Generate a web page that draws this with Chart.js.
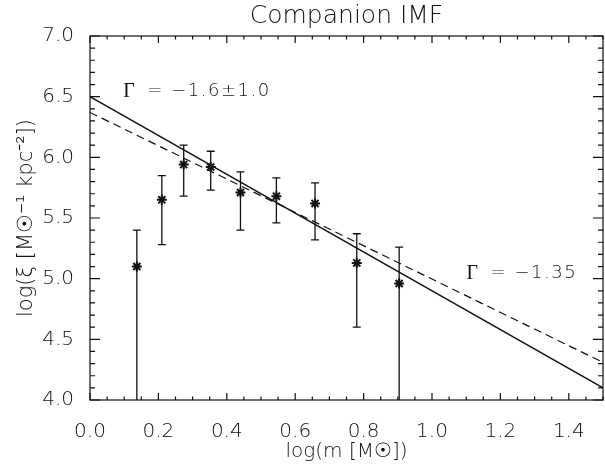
<!DOCTYPE html>
<html>
<head>
<meta charset="utf-8">
<script src="https://cdn.jsdelivr.net/npm/chart.js@4.4.1/dist/chart.umd.min.js"></script>
<style>
  body { margin: 0; background: #fff; overflow: hidden; }
</style>
</head>
<body>
<!-- canvas is a little wider than the window: the point overflow padding then lands off-screen -->
<canvas id="imfChart" width="610" height="466"></canvas>
<script>
// data
const logMass = [0.137, 0.210, 0.274, 0.353, 0.440, 0.545, 0.658, 0.780, 0.904];
const logXi   = [5.10, 5.65, 5.94, 5.92, 5.71, 5.68, 5.62, 5.13, 4.96];
const errHigh = [5.40, 5.85, 6.10, 6.05, 5.88, 5.83, 5.79, 5.37, 5.26];
const errLow  = [3.80, 5.28, 5.68, 5.73, 5.40, 5.46, 5.32, 4.60, 3.80];

const fitX      = [0.0, 1.5];
const fitSolid  = [6.50, 4.10];   // Gamma = -1.6
const fitDashed = [6.37, 4.31];   // Gamma = -1.35

const xTicks = [0.0, 0.2, 0.4, 0.6, 0.8, 1.0, 1.2, 1.4];
const yTicks = [4.0, 4.5, 5.0, 5.5, 6.0, 6.5, 7.0];

const fontFamily = "'DejaVu Sans', sans-serif";
const ink = '#111';
const chartTitle = 'Companion IMF';

// text labels in data coords
const fitLabels = [
    { x: 0.097, y: 6.54, value: '\u22121.6\u00b11.0' },
    { x: 1.101, y: 5.04, value: '\u22121.35' }
];

// IDL style frame: box, inward ticks on all sides, error bars, labels
const idlFrame = {
    id: 'idlFrame',
    beforeDatasetsDraw(chart) {
        const ctx = chart.ctx;
        const xs = chart.scales.x, ys = chart.scales.y;
        const a = chart.chartArea;
        ctx.save();
        ctx.beginPath();
        ctx.rect(a.left, a.top, a.right - a.left, a.bottom - a.top);
        ctx.clip();
        ctx.strokeStyle = ink;
        ctx.lineWidth = 1.3;
        for (let i = 0; i < logMass.length; i++) {
            const px = xs.getPixelForValue(logMass[i]);
            const hi = ys.getPixelForValue(errHigh[i]);
            const lo = ys.getPixelForValue(errLow[i]);
            ctx.beginPath();
            ctx.moveTo(px, hi); ctx.lineTo(px, lo);
            ctx.moveTo(px - 4, hi); ctx.lineTo(px + 4, hi);
            ctx.moveTo(px - 4, lo); ctx.lineTo(px + 4, lo);
            ctx.stroke();
        }
        ctx.restore();
    },
    afterDatasetsDraw(chart) {
        const ctx = chart.ctx;
        const xs = chart.scales.x, ys = chart.scales.y;
        const a = chart.chartArea;
        ctx.save();
        ctx.strokeStyle = ink;
        ctx.lineWidth = 1.2;
        ctx.strokeRect(a.left, a.top, a.right - a.left, a.bottom - a.top);

        ctx.beginPath();
        // x ticks (major every 0.2, minor every 0.05)
        for (let k = 0; k <= 30; k++) {
            const v = k * 0.05;
            const px = xs.getPixelForValue(v);
            const len = (k % 4 === 0) ? 7 : 3.5;
            ctx.moveTo(px, a.bottom); ctx.lineTo(px, a.bottom - len);
            ctx.moveTo(px, a.top); ctx.lineTo(px, a.top + len);
        }
        // y ticks (major every 0.5, minor every 0.1)
        for (let k = 0; k <= 30; k++) {
            const v = 4 + k * 0.1;
            const py = ys.getPixelForValue(v);
            const len = (k % 5 === 0) ? 10 : 5;
            ctx.moveTo(a.left, py); ctx.lineTo(a.left + len, py);
            ctx.moveTo(a.right, py); ctx.lineTo(a.right - len, py);
        }
        ctx.stroke();

        ctx.fillStyle = ink;
        // title, centred over the plot box
        ctx.textAlign = 'center';
        ctx.textBaseline = 'middle';
        ctx.font = "200 25px " + fontFamily;
        ctx.fillText(chartTitle, (a.left + a.right) / 2, 16);

        // Gamma labels
        ctx.textAlign = 'left';
        fitLabels.forEach(l => {
            const px = xs.getPixelForValue(l.x);
            const py = ys.getPixelForValue(l.y);
            ctx.font = "20px 'Liberation Serif', serif";
            ctx.fillText('\u0393', px, py);
            ctx.font = "200 18px " + fontFamily;
            ctx.fillText('=', px + 24, py);
            ctx.letterSpacing = '1.5px';
            ctx.fillText(l.value, px + 48, py);
            ctx.letterSpacing = '0px';
        });
        ctx.restore();
    }
};

new Chart(document.getElementById('imfChart'), {
    type: 'scatter',
    data: {
        datasets: [
            {
                label: 'Companions',
                data: logMass.map((m, i) => ({ x: m, y: logXi[i] })),
                pointStyle: 'star',
                pointRadius: 5,
                borderWidth: 2,
                borderColor: ink,
                backgroundColor: ink
            },
            {
                label: 'Fit',
                data: fitX.map((m, i) => ({ x: m, y: fitSolid[i] })),
                showLine: true,
                pointRadius: 0,
                borderWidth: 1.3,
                borderColor: ink
            },
            {
                label: 'Salpeter',
                data: fitX.map((m, i) => ({ x: m, y: fitDashed[i] })),
                showLine: true,
                pointRadius: 0,
                borderWidth: 1.2,
                borderDash: [8, 5],
                borderColor: ink
            }
        ]
    },
    options: {
        responsive: false,
        animation: false,
        layout: { padding: { left: 0, right: 0, top: 36, bottom: 0 } },
        plugins: {
            legend: { display: false },
            tooltip: { enabled: false },
            title: { display: false }
        },
        scales: {
            x: {
                type: 'linear',
                min: 0,
                max: 1.5,
                afterBuildTicks: s => { s.ticks = xTicks.map(v => ({ value: v })); },
                afterFit: s => { s.height = 66; s.paddingLeft = 0; s.paddingRight = 0; },
                grid: { display: false },
                border: { display: false },
                ticks: {
                    color: ink,
                    padding: 12,
                    font: { family: fontFamily, size: 20, weight: 200 },
                    callback: v => v.toFixed(1)
                },
                title: {
                    display: true,
                    text: 'log(m [M\u2609])',
                    color: ink,
                    font: { family: fontFamily, size: 20, weight: 200 },
                    padding: { top: 0, bottom: 2 }
                }
            },
            y: {
                type: 'linear',
                min: 4,
                max: 7,
                afterBuildTicks: s => { s.ticks = yTicks.map(v => ({ value: v })); },
                afterFit: s => { s.width = 90; s.paddingTop = 0; s.paddingBottom = 0; },
                grid: { display: false },
                border: { display: false },
                ticks: {
                    color: ink,
                    padding: 8,
                    font: { family: fontFamily, size: 20, weight: 200 },
                    callback: v => v.toFixed(1)
                },
                title: {
                    display: true,
                    text: 'log(\u03be [M\u2609\u207b\u00b9 kpc\u207b\u00b2])',
                    color: ink,
                    font: { family: fontFamily, size: 21, weight: 200 },
                    padding: { top: 14, bottom: 0 }
                }
            }
        }
    },
    plugins: [idlFrame]
});
</script>
</body>
</html>
